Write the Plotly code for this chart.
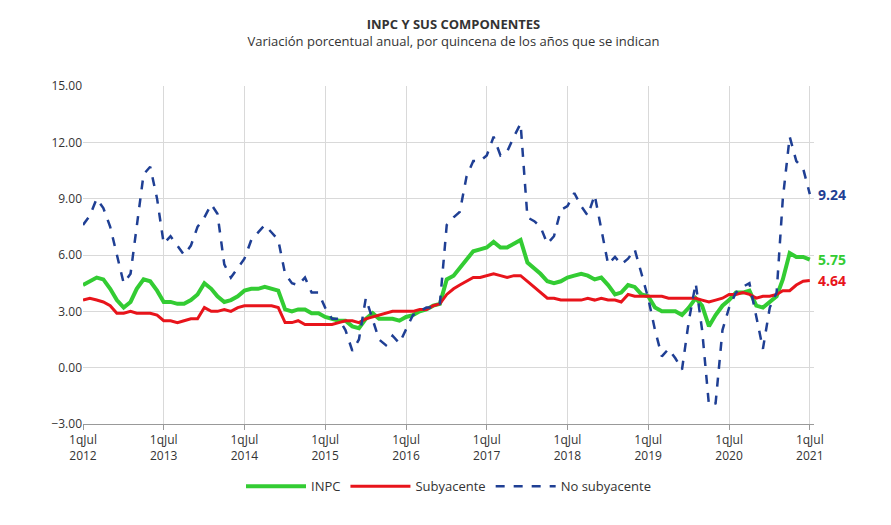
import plotly.graph_objects as go
import pandas as pd

inpc = [4.4,4.6,4.8,4.7,4.2,3.6,
 3.2,3.5,4.2,4.7,4.6,4.1,3.5,3.5,3.4,3.4,3.6,3.9,
 4.5,4.2,3.8,3.5,3.6,3.8,4.1,4.2,4.2,4.3,4.2,4.1,
 3.1,3.0,3.1,3.1,2.9,2.9,2.7,2.6,2.5,2.5,2.2,2.1,
 2.6,2.9,2.6,2.6,2.6,2.5,2.7,2.8,3.0,3.1,3.3,3.4,
 4.7,4.9,5.3,5.8,6.2,6.3,6.4,6.7,6.4,6.4,6.6,6.8,
 5.6,5.3,5.0,4.6,4.5,4.6,4.8,4.9,5.0,4.9,4.7,4.8,
 4.4,3.9,4.0,4.4,4.3,3.9,3.8,3.2,3.0,3.0,3.0,2.8,
 3.2,3.7,3.3,2.2,2.8,3.3,3.6,4.0,4.0,4.1,3.3,3.2,
 3.5,3.8,4.7,6.1,5.9,5.9,5.75]
suby = [3.6,3.7,3.6,3.5,3.3,2.9,
 2.9,3.0,2.9,2.9,2.9,2.8,2.5,2.5,2.4,2.5,2.6,2.6,
 3.2,3.0,3.0,3.1,3.0,3.2,3.3,3.3,3.3,3.3,3.3,3.2,
 2.4,2.4,2.5,2.3,2.3,2.3,2.3,2.3,2.4,2.5,2.5,2.4,
 2.6,2.7,2.8,2.9,3.0,3.0,3.0,3.0,3.1,3.1,3.3,3.4,
 3.9,4.2,4.4,4.6,4.8,4.8,4.9,5.0,4.9,4.8,4.9,4.9,
 4.6,4.3,4.0,3.7,3.7,3.6,3.6,3.6,3.6,3.7,3.6,3.7,
 3.6,3.6,3.5,3.9,3.8,3.8,3.8,3.8,3.8,3.7,3.7,3.7,
 3.7,3.7,3.6,3.5,3.6,3.7,3.9,3.9,4.0,3.9,3.7,3.8,
 3.8,3.9,4.1,4.1,4.4,4.6,4.64]
nosub = [7.6,8.1,9.0,8.5,7.5,6.0,
 4.5,5.0,7.5,10.3,10.7,9.0,6.6,7.0,6.5,6.0,6.5,7.5,
 8.0,8.7,8.2,5.5,4.8,5.3,5.8,6.8,7.2,7.6,7.2,6.8,
 5.0,4.5,4.4,4.8,4.0,4.0,3.2,2.6,2.6,2.0,0.9,1.5,
 3.7,2.5,1.5,1.2,1.7,1.3,2.0,2.8,3.0,3.2,3.2,3.4,
 7.6,8.0,8.3,10.2,11.0,11.0,11.3,12.3,11.3,11.5,12.3,13.0,
 8.0,7.8,7.5,6.6,7.0,8.4,8.6,9.3,8.6,8.1,9.2,7.3,
 5.5,5.9,5.5,5.8,6.3,5.0,3.7,2.0,0.6,1.0,0.5,-0.1,
 2.5,4.5,2.0,-2.0,-1.9,2.0,3.2,4.0,4.3,4.5,2.8,1.0,
 3.2,4.0,9.0,12.3,11.0,10.6,9.24]
years = list(range(2012, 2022))
tick_text = [f"1qJul<br>{y}" for y in years]

dates = pd.date_range("2012-07-01", periods=len(inpc), freq="MS")
tick_vals = [pd.Timestamp(f"{y}-07-01") for y in years]

fig = go.Figure()
fig.add_trace(go.Scatter(x=dates, y=inpc, name="INPC", mode="lines", line=dict(color="#33CC33", width=4)))
fig.add_trace(go.Scatter(x=dates, y=suby, name="Subyacente", mode="lines", line=dict(color="#E8141B", width=3)))
fig.add_trace(go.Scatter(x=dates, y=nosub, name="No subyacente", mode="lines", line=dict(color="#1F3F94", width=2.5, dash="dash")))

for vals, col in [(nosub, "#1F3F94"), (inpc, "#33CC33"), (suby, "#E8141B")]:
    fig.add_annotation(x=dates[-1], y=vals[-1], text=f"<b>{vals[-1]:.2f}</b>", showarrow=False,
                       xanchor="left", xshift=6, font=dict(color=col, size=14))

fig.update_layout(
    width=891, height=525, plot_bgcolor="white", paper_bgcolor="white",
    font=dict(family="Open Sans", size=12, color="#333"),
    title=dict(text="<b>INPC Y SUS COMPONENTES</b><br><span style='font-size:13px'>Variación porcentual anual, por quincena de los años que se indican</span>",
               x=0.5, y=0.96, xanchor="center", font=dict(size=13)),
    margin=dict(l=75, r=85, t=78, b=109),
    legend=dict(orientation="h", x=0.5, xanchor="center", y=-0.14, yanchor="top",
                font=dict(size=13), itemwidth=60),
    xaxis=dict(tickvals=tick_vals, ticktext=tick_text, showgrid=True, gridcolor="#D9D9D9",
               range=[pd.Timestamp("2012-07-01"), pd.Timestamp("2021-07-20")],
               showline=True, linecolor="#999", ticks="outside", tickcolor="#999", tickfont=dict(size=12)),
    yaxis=dict(range=[-3, 15], dtick=3, tickformat=".2f", showgrid=True, gridcolor="#D9D9D9",
               zeroline=False, tickfont=dict(size=12)),
)
fig.write_html("out.html")
